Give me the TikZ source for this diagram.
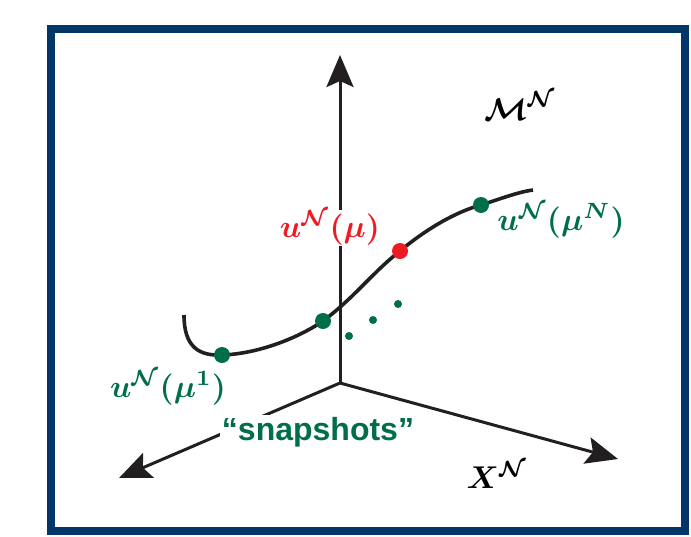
\documentclass[tikz,border=0pt]{standalone}
\usepackage{amsmath,amssymb,bm}
\usepackage{fontspec}
\newfontfamily\snapfont{Liberation Sans}
\usetikzlibrary{arrows.meta}
\definecolor{framebl}{RGB}{0,55,104}
\definecolor{snapgreen}{RGB}{0,110,72}
\definecolor{solred}{RGB}{237,28,36}
\tikzset{
  axis/.style={line width=3pt, draw={rgb,255:red,35;green,31;blue,32}, -{Stealth[length=32pt,width=27pt,inset=6pt]}},
  manifold/.style={line width=3.6pt, draw={rgb,255:red,35;green,31;blue,32}},
  bigdot/.style={circle, fill=snapgreen, inner sep=0pt, minimum size=16pt},
  reddot/.style={circle, fill=solred, inner sep=0pt, minimum size=16pt},
  smalldot/.style={circle, fill=snapgreen, inner sep=0pt, minimum size=8pt},
  mlabel/.style={inner sep=0.3pt, scale=3.15},
}
\begin{document}
\begin{tikzpicture}[x=1pt,y=-1pt]
\useasboundingbox (0,0) rectangle (691,536);
\draw[line width=8pt, framebl] (51,29) rectangle (685,531);
% axes
\coordinate (O) at (340,383);
\coordinate (tipU) at (340,55);
\coordinate (tipL) at (119,478);
\coordinate (tipR) at (618,459);
\draw[axis] (O) -- (tipU);
\draw[axis] (O) -- (tipL);
\draw[axis] (O) -- (tipR);
% manifold curve
\coordinate (c0) at (184,315);
\coordinate (c1) at (222,355);
\coordinate (c2) at (323,321);
\coordinate (c3) at (400,251);
\coordinate (c4) at (481,205);
\coordinate (c5) at (533,190);
\draw[manifold] (c0) .. controls (184,348) and (200,356) .. (c1)
  .. controls (255,354) and (295,340) .. (c2)
  .. controls (355,297) and (372,273) .. (c3)
  .. controls (425,230) and (455,212) .. (c4)
  .. controls (500,199) and (518,192) .. (c5);
% dots
\node[bigdot] (d1) at (c1) {};
\node[bigdot] (d2) at (c2) {};
\node[reddot] (dr) at (c3) {};
\node[bigdot] (dN) at (c4) {};
\node[smalldot] (s1) at (349,336) {};
\node[smalldot] (s2) at (373,320) {};
\node[smalldot] (s3) at (398,304) {};
% labels
\node[mlabel, text=solred, fill=white] (lmu) at (330,228) {$\boldsymbol{u^{\mathcal N}(\mu)}$};
\node[mlabel, text=snapgreen] (lmuN) at (561,221) {$\boldsymbol{u^{\mathcal N}(\mu^N)}$};
\node[mlabel, text=snapgreen] (lmu1) at (168,388) {$\boldsymbol{u^{\mathcal N}(\mu^1)}$};
\node[mlabel] (lM) at (520,106) {$\boldsymbol{\mathcal M^{\mathcal N}}$};
\node[mlabel] (lX) at (497,475) {$\boldsymbol{X^{\mathcal N}}$};
\node[fill=white, text=snapgreen, inner sep=2pt, font=\snapfont\bfseries\fontsize{32}{36}\selectfont] (snap) at (318,432) {“snapshots”};
\end{tikzpicture}
\end{document}
